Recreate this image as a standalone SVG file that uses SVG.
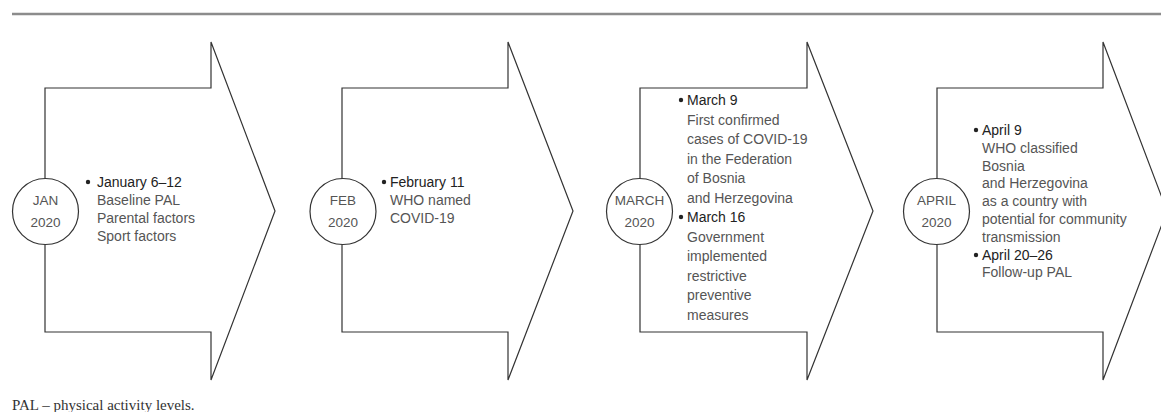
<svg xmlns="http://www.w3.org/2000/svg" width="1161" height="412" viewBox="0 0 1161 412">
<style>
.arrow{fill:#fff;stroke:#333;stroke-width:1.2;stroke-linejoin:miter}
.circ{fill:#fff;stroke:#333;stroke-width:1.2}
.lab{font-family:"Liberation Sans",Arial,sans-serif;font-size:14px;fill:#555}
.clab{font-family:"Liberation Sans",Arial,sans-serif;font-size:13.5px;fill:#555;text-anchor:middle}
.date{fill:#222}
.foot{font-family:"Liberation Serif","Times New Roman",serif;font-size:15px;fill:#333}
</style>
<rect width="1161" height="412" fill="#fff"/>
<line x1="12" y1="14" x2="1161" y2="14" stroke="#8c8c8c" stroke-width="2.5"/>
<g id="connectors"/>

<g id="jan">
<polygon class="arrow" points="45,88 211,88 211,42 275,211 211,380 211,332 45,332"/>
<circle class="circ" cx="45.5" cy="211.5" r="33"/>
<text class="clab" x="45.5" y="205">JAN</text>
<text class="clab" x="45.5" y="227">2020</text>
<circle cx="88" cy="182" r="2.2" fill="#222"/>
<text class="lab" x="97"><tspan class="date" x="97" y="187">January 6–12</tspan><tspan x="97" y="205">Baseline PAL</tspan><tspan x="97" y="223">Parental factors</tspan><tspan x="97" y="241">Sport factors</tspan></text>
</g>

<g id="feb">
<polygon class="arrow" points="342,88 508,88 508,42 573,211 508,380 508,332 342,332"/>
<circle class="circ" cx="343" cy="211.5" r="33"/>
<text class="clab" x="343" y="205">FEB</text>
<text class="clab" x="343" y="227">2020</text>
<circle cx="384" cy="182" r="2.2" fill="#222"/>
<text class="lab" x="390"><tspan class="date" x="390" y="187">February 11</tspan><tspan x="390" y="205">WHO named</tspan><tspan x="390" y="223">COVID-19</tspan></text>
</g>

<g id="march">
<polygon class="arrow" points="640,88 807,88 807,42 873,211 807,380 807,332 640,332"/>
<circle class="circ" cx="639.5" cy="211.5" r="33"/>
<text class="clab" x="639.5" y="205">MARCH</text>
<text class="clab" x="639.5" y="227">2020</text>
<circle cx="681" cy="100" r="2.2" fill="#222"/>
<circle cx="681" cy="217" r="2.2" fill="#222"/>
<text class="lab" x="687"><tspan class="date" x="687" y="105">March 9</tspan><tspan x="687" y="124.5">First confirmed</tspan><tspan x="687" y="144">cases of COVID-19</tspan><tspan x="687" y="163.5">in the Federation</tspan><tspan x="687" y="183">of Bosnia</tspan><tspan x="687" y="202.5">and Herzegovina</tspan><tspan class="date" x="687" y="222">March 16</tspan><tspan x="687" y="241.5">Government</tspan><tspan x="687" y="261">implemented</tspan><tspan x="687" y="280.5">restrictive</tspan><tspan x="687" y="300">preventive</tspan><tspan x="687" y="319.5">measures</tspan></text>
</g>

<g id="april">
<polygon class="arrow" points="937,88 1103,88 1103,42 1167,211 1103,380 1103,332 937,332"/>
<circle class="circ" cx="936.5" cy="211.5" r="33"/>
<text class="clab" x="936.5" y="205">APRIL</text>
<text class="clab" x="936.5" y="227">2020</text>
<circle cx="976" cy="130" r="2.2" fill="#222"/>
<circle cx="976" cy="255" r="2.2" fill="#222"/>
<text class="lab" x="982"><tspan class="date" x="982" y="135">April 9</tspan><tspan x="982" y="153">WHO classified</tspan><tspan x="982" y="171">Bosnia</tspan><tspan x="982" y="188">and Herzegovina</tspan><tspan x="982" y="206">as a country with</tspan><tspan x="982" y="224">potential for community</tspan><tspan x="982" y="242">transmission</tspan><tspan class="date" x="982" y="260">April 20–26</tspan><tspan x="982" y="277">Follow-up PAL</tspan></text>
</g>

<text class="foot" x="12" y="410">PAL – physical activity levels.</text>
</svg>
